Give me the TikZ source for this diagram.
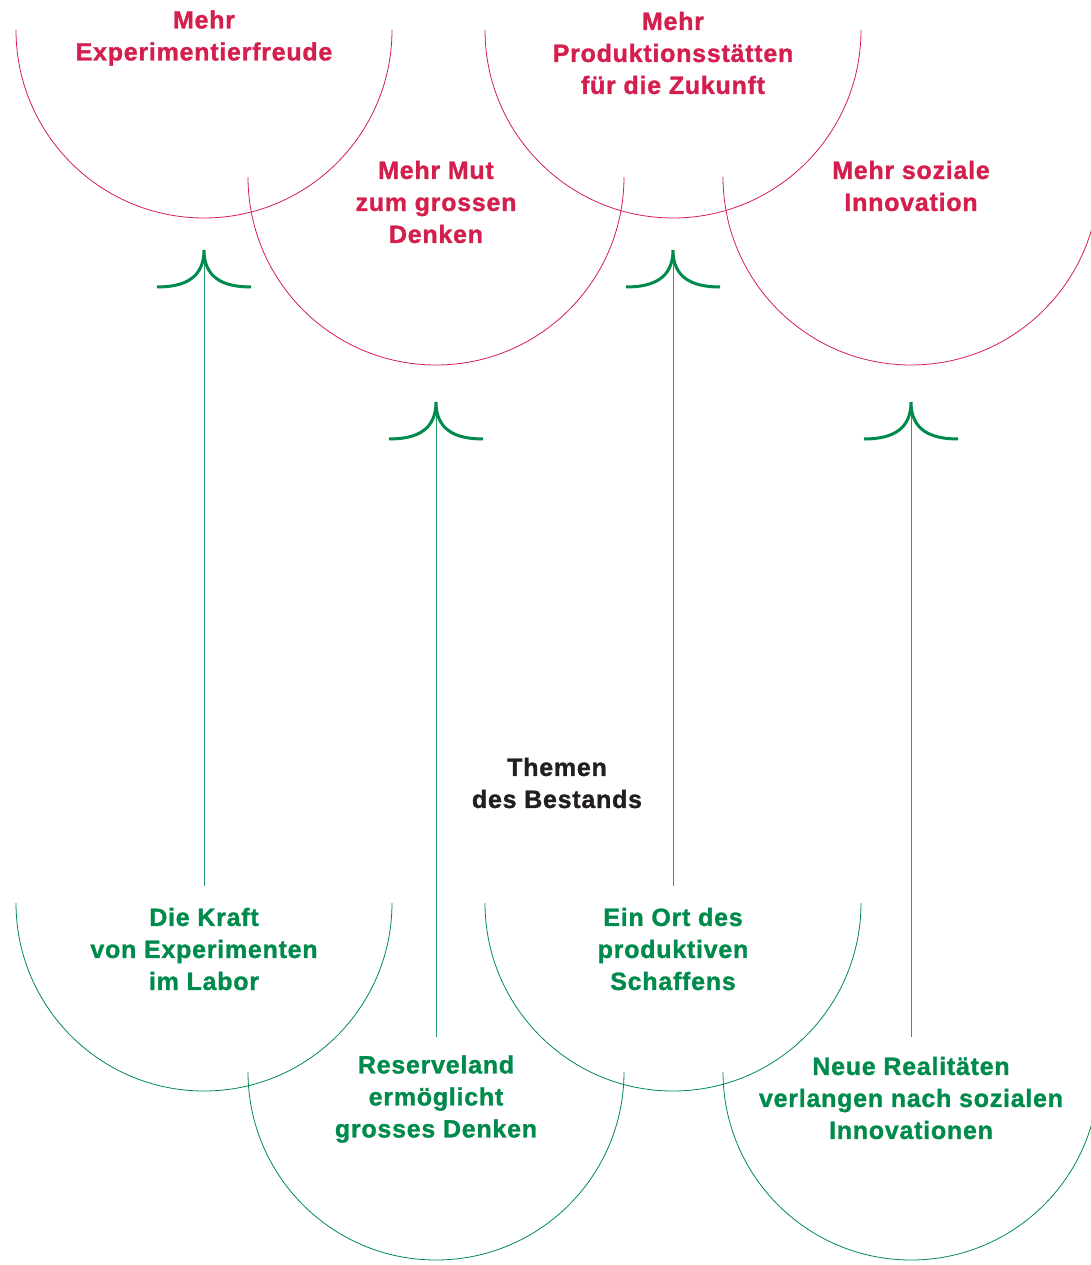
\documentclass[tikz,border=0pt]{standalone}
\usepackage{fontspec}
\setmainfont{Liberation Sans}[LetterSpace=3, BoldFeatures={FakeBold=1.2}]
\usepackage{tikz}
\definecolor{rot}{HTML}{D31F4E}
\definecolor{gruen}{HTML}{008A4B}
\definecolor{dunkel}{HTML}{231F20}
\tikzset{
  ziel/.style={text=rot, font=\bfseries\fontsize{25}{32}\selectfont,
    align=center, inner sep=0pt},
  bestand/.style={ziel, text=gruen},
  thema/.style={ziel, text=dunkel},
  bogenrot/.style={draw=rot, line width=0.8pt},
  bogengruen/.style={draw=gruen, line width=0.8pt},
  schaft/.style={draw=gruen!85, line width=0.8pt},
  kelch/.style={draw=gruen, line width=3pt}
}
% geschwungene Pfeilspitze an einer benannten Koordinate
\newcommand{\kelchspitze}[1]{%
  \draw[kelch, shift={(#1)}] (-47,37) .. controls (-18,37) and (0,27) .. (0,0)
    .. controls (0,27) and (18,37) .. (47,37);}

\begin{document}
\begin{tikzpicture}[x=1pt, y=-1pt]
  \useasboundingbox (0,0) rectangle (1091,1265);
  \clip (0,0) rectangle (1091,1265);

  % --- Ziele (oben) ---
  \draw[bogenrot] (16,30) arc[start angle=180, end angle=0, radius=188];
  \draw[bogenrot] (248,177) arc[start angle=180, end angle=0, radius=188];
  \draw[bogenrot] (485,30) arc[start angle=180, end angle=0, radius=188];
  \draw[bogenrot] (723,177) arc[start angle=180, end angle=0, radius=188];

  \node[ziel] (experiment) at (204,38) {Mehr\\Experimentierfreude};
  \node[ziel] (mut) at (436,202) {Mehr Mut\\zum grossen\\Denken};
  \node[ziel] (produktion) at (673,53) {Mehr\\Produktionsstätten\\für die Zukunft};
  \node[ziel] (sozial) at (911,186) {Mehr soziale\\Innovation};

  % --- Bestand (unten) ---
  \draw[bogengruen] (16,903) arc[start angle=180, end angle=0, radius=188];
  \draw[bogengruen] (248,1072) arc[start angle=180, end angle=0, radius=188];
  \draw[bogengruen] (485,903) arc[start angle=180, end angle=0, radius=188];
  \draw[bogengruen] (723,1072) arc[start angle=180, end angle=0, radius=188];

  \node[bestand] (labor) at (204,949) {Die Kraft\\von Experimenten\\im Labor};
  \node[bestand] (reserve) at (436,1099) {Reserveland\\ermöglicht\\grosses Denken};
  \node[bestand] (ort) at (673,949) {Ein Ort des\\produktiven\\Schaffens};
  \node[bestand] (realitaet) at (911,1098) {Neue Realitäten\\verlangen nach sozialen\\Innovationen};

  \node[thema] (themen) at (557,783) {Themen\\des Bestands};

  % --- Pfeile ---
  \coordinate (fuss1) at (204,886);   \coordinate (spitze1) at (204,250);
  \coordinate (fuss2) at (436,1037);  \coordinate (spitze2) at (436,402);
  \coordinate (fuss3) at (673,886);   \coordinate (spitze3) at (673,250);
  \coordinate (fuss4) at (911,1037);  \coordinate (spitze4) at (911,402);

  \draw[schaft] (fuss1) -- (spitze1);
  \draw[schaft] (fuss2) -- (spitze2);
  \draw[schaft] (fuss3) -- (spitze3);
  \draw[schaft] (fuss4) -- (spitze4);
  \kelchspitze{spitze1}
  \kelchspitze{spitze2}
  \kelchspitze{spitze3}
  \kelchspitze{spitze4}

\end{tikzpicture}
\end{document}
